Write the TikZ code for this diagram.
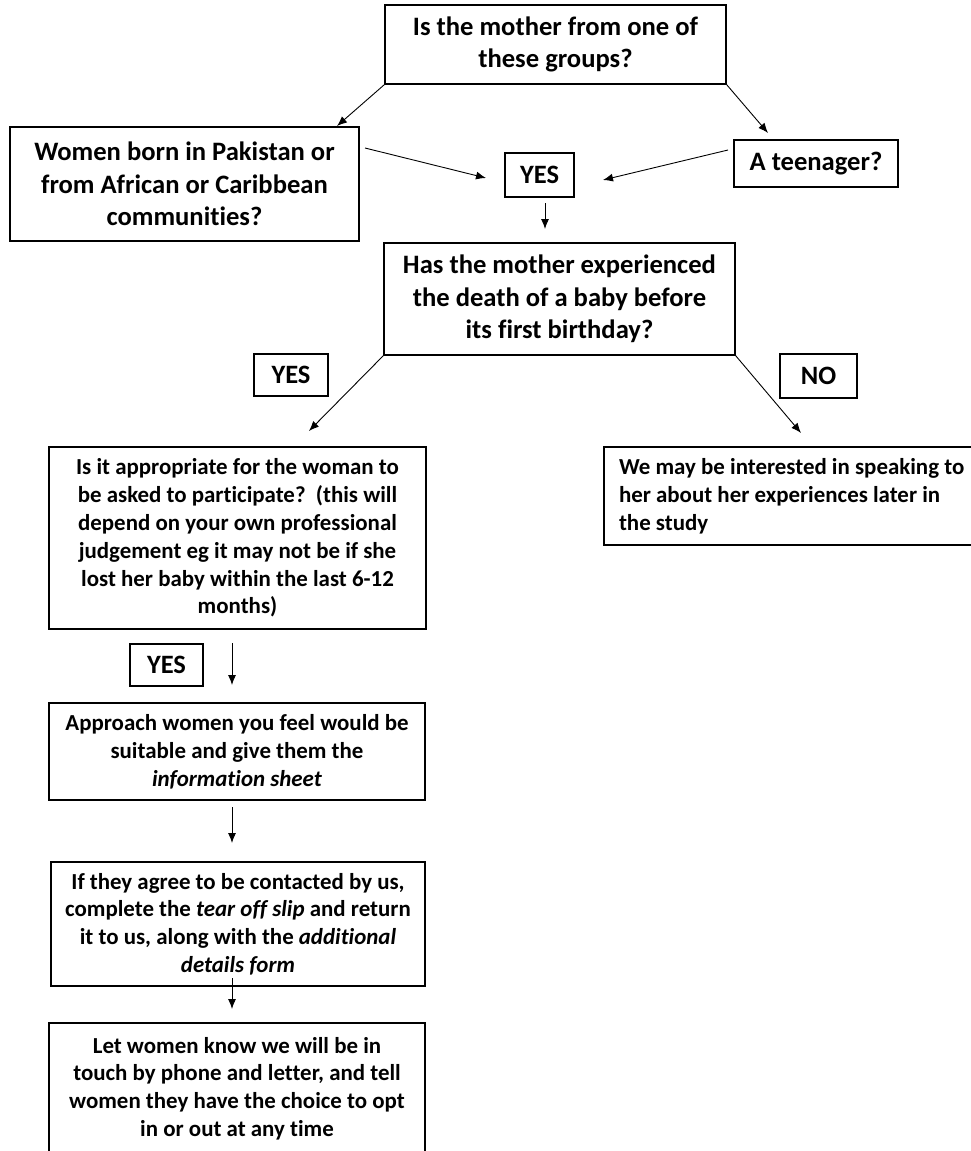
\documentclass[tikz,border=0pt]{standalone}
\usepackage{fontspec}
\setmainfont{Carlito}[Ligatures=NoCommon]
\usetikzlibrary{arrows.meta}
\tikzset{
  box/.style={draw, line width=1.3pt, inner sep=0pt, align=center},
  bigtxt/.style={font=\bfseries\fontsize{26.6}{32.5}\selectfont},
  smalltxt/.style={font=\bfseries\fontsize{22.9}{27.8}\selectfont},
  lbl/.style={box, font=\bfseries\fontsize{26.5}{30}\selectfont},
  arr/.style={line width=0.9pt, -{Latex[length=10pt,width=8pt]}}
}
\begin{document}
\begin{tikzpicture}[x=1pt,y=-1pt]
\useasboundingbox (0,0) rectangle (970,1151);
% top section
\node[box,bigtxt,minimum width=341pt,minimum height=79pt] (top) at (555.5,44.5) {Is the mother from one of\\these groups?};
\node[box,bigtxt,minimum width=349pt,minimum height=114pt] (left) at (184.5,184) {Women born in Pakistan or\\from African or Caribbean\\communities?};
\node[lbl,minimum width=69pt,minimum height=44pt] (yes1) at (539.5,175) {YES};
\node[box,bigtxt,minimum width=164pt,minimum height=47pt] (teen) at (816,163.5) {A teenager?};
\node[box,bigtxt,minimum width=351pt,minimum height=112pt] (has) at (559.5,299) {Has the mother experienced\\the death of a baby before\\its first birthday?};
\node[lbl,minimum width=74pt,minimum height=42pt] (yes2) at (291,375) {YES};
\node[lbl,minimum width=77pt,minimum height=44pt] (no) at (818.5,376) {NO};
% lower section
\node[box,smalltxt,minimum width=377pt,minimum height=182pt] (appr) at (237.5,538) {Is it appropriate for the woman to\\be asked to participate?\ \ (this will\\depend on your own professional\\judgement eg it may not be if she\\lost her baby within the last 6-12\\months)};
\node[box,smalltxt,align=flush left,text width=360pt,inner xsep=15pt,minimum height=98pt] (we) at (799,496) {We may be interested in speaking to\\her about her experiences later in\\the study};
\node[lbl,minimum width=73pt,minimum height=42pt] (yes3) at (166.5,665) {YES};
\node[box,smalltxt,minimum width=376pt,minimum height=97pt] (approach) at (237,751.5) {Approach women you feel would be\\suitable and give them the\\\textit{information sheet}};
\node[box,smalltxt,minimum width=374pt,minimum height=124pt] (agree) at (238,924) {If they agree to be contacted by us,\\complete the \textit{tear off slip} and return\\it to us, along with the \textit{additional}\\\textit{details form}};
\node[box,smalltxt,minimum width=376pt,minimum height=131pt] (let) at (237,1088.5) {Let women know we will be in\\touch by phone and letter, and tell\\women they have the choice to opt\\in or out at any time};
% connector ends
\coordinate (c1) at (337,126);
\coordinate (c2) at (768,133);
\coordinate (c3s) at (365,148);
\coordinate (c3e) at (486,178);
\coordinate (c4s) at (728,150);
\coordinate (c4e) at (603,180);
\coordinate (c5s) at (545,203);
\coordinate (c5e) at (545,229);
\coordinate (c6) at (309,431);
\coordinate (c7) at (801,433);
\coordinate (c8s) at (232,643);
\coordinate (c8e) at (232,685);
\coordinate (c9s) at (232,807);
\coordinate (c9e) at (232,843);
\coordinate (c10s) at (232,978);
\coordinate (c10e) at (232,1009);
\draw[arr] (top.south west) -- (c1);
\draw[arr] (top.south east) -- (c2);
\draw[arr] (c3s) -- (c3e);
\draw[arr] (c4s) -- (c4e);
\draw[arr] (c5s) -- (c5e);
\draw[arr] (has.south west) -- (c6);
\draw[arr] (has.south east) -- (c7);
\draw[arr] (c8s) -- (c8e);
\draw[arr] (c9s) -- (c9e);
\draw[arr] (c10s) -- (c10e);
\end{tikzpicture}
\end{document}
